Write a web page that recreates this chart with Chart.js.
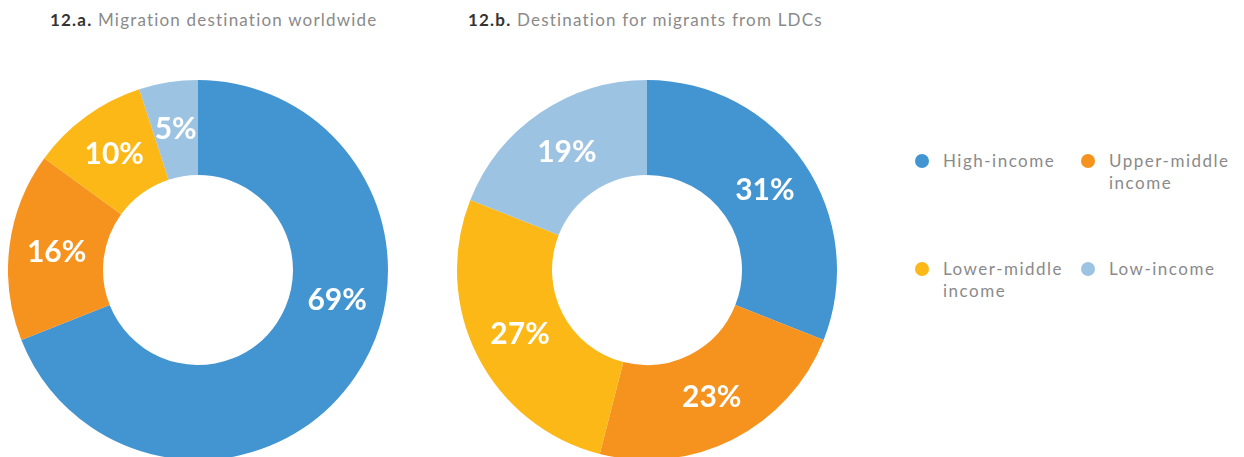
<!DOCTYPE html>
<html>
<head>
<meta charset="utf-8">
<script src="https://cdn.jsdelivr.net/npm/chart.js@4.4.1/dist/chart.umd.min.js"></script>
<style>
  html, body { margin: 0; padding: 0; background: #fff; }
  body { width: 1244px; height: 457px; overflow: hidden; position: relative; font-family: 'Lato', sans-serif; }
  .title { position: absolute; top: 9px; font-size: 17px; color: #8a8a8a; letter-spacing: 1.2px; white-space: nowrap; }
  .title b { color: #333; font-weight: 700; }
  .chart { position: absolute; top: 80px; width: 380px; height: 380px; }
  .legend { position: absolute; left: 915px; top: 150px; width: 330px; }
  .legend-item { position: absolute; display: flex; align-items: flex-start; font-size: 17px; color: #8a8a8a; letter-spacing: 1.5px; line-height: 22px; white-space: nowrap; }
  .legend-dot { width: 14px; height: 14px; border-radius: 50%; margin-top: 4px; margin-right: 14px; flex: none; }
</style>
</head>
<body>
<div class="title" style="left:50px"><b>12.a.</b> Migration destination worldwide</div>
<div class="title" style="left:468px"><b>12.b.</b> Destination for migrants from LDCs</div>
<canvas id="chartA" class="chart" width="380" height="380" style="left:8px"></canvas>
<canvas id="chartB" class="chart" width="380" height="380" style="left:457px"></canvas>
<div class="legend" id="legend"></div>
<script>
// ── Data ─────────────────────────────────
const CATEGORIES   = ['High-income', 'Upper-middle income', 'Lower-middle income', 'Low-income'];
const LEGEND_LINES = [['High-income'], ['Upper-middle', 'income'], ['Lower-middle', 'income'], ['Low-income']];
const WORLDWIDE    = [69, 16, 10, 5];
const FROM_LDCS    = [31, 23, 27, 19];
const COLORS       = ['#4395d1', '#f6921e', '#fbb817', '#9dc3e3'];

// ── Slice labels drawn at the middle of each arc ──
const sliceLabels = {
  id: 'sliceLabels',
  afterDatasetsDraw(chart, args, opts) {
    const { ctx } = chart;
    const meta = chart.getDatasetMeta(0);
    const values = chart.data.datasets[0].data;
    const shift = opts.shift || {};
    ctx.save();
    ctx.fillStyle = '#fff';
    ctx.font = "bold 30px 'Lato', sans-serif";
    ctx.textAlign = 'center';
    ctx.textBaseline = 'middle';
    meta.data.forEach((arc, i) => {
      const p = arc.getProps(['x', 'y', 'startAngle', 'endAngle', 'innerRadius', 'outerRadius'], true);
      const a = (p.startAngle + p.endAngle) / 2 + (shift[i] || 0);
      const r = (p.innerRadius + p.outerRadius) / 2;
      ctx.fillText(values[i] + '%', p.x + Math.cos(a) * r, p.y + Math.sin(a) * r);
    });
    ctx.restore();
  },
};

function makeDonut(id, values, shift) {
  return new Chart(document.getElementById(id), {
    type: 'doughnut',
    data: {
      labels: CATEGORIES,
      datasets: [{
        data: values,
        backgroundColor: COLORS,
        borderWidth: 0,
      }],
    },
    options: {
      responsive: false,
      animation: false,
      cutout: '50%',
      layout: { padding: 0 },
      plugins: {
        legend: { display: false },
        tooltip: { enabled: false },
        sliceLabels: { shift },
      },
    },
    plugins: [sliceLabels],
  });
}

makeDonut('chartA', WORLDWIDE, { 0: -0.38 });
makeDonut('chartB', FROM_LDCS, {});

// ── Legend ───────────────────────────────
const legendPos = [[0, 0], [166, 0], [0, 108], [166, 108]];
document.getElementById('legend').innerHTML = CATEGORIES.map((c, i) => `
  <div class="legend-item" style="left:${legendPos[i][0]}px;top:${legendPos[i][1]}px">
    <span class="legend-dot" style="background:${COLORS[i]}"></span>
    <span>${LEGEND_LINES[i].join('<br>')}</span>
  </div>`).join('');
</script>
</body>
</html>
